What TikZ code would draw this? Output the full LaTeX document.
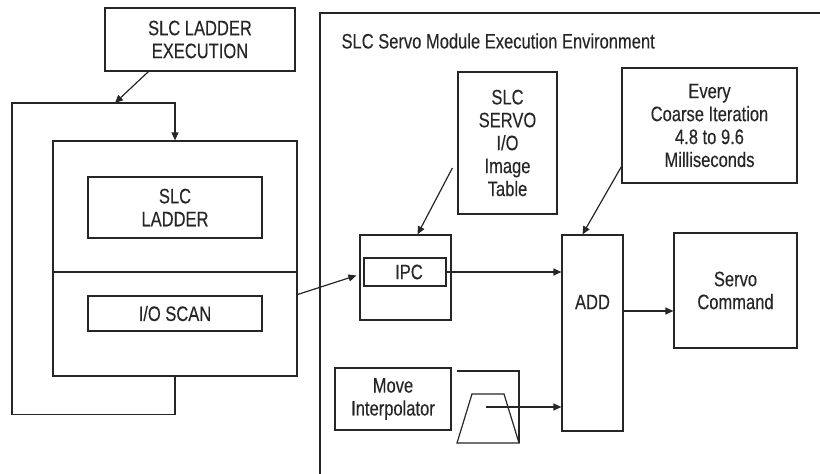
\documentclass[tikz,border=0pt]{standalone}
\usepackage{fontspec}
\setmainfont[FakeStretch=0.79,FakeBold=0.25]{Liberation Sans}
\usetikzlibrary{arrows.meta,calc}
\tikzset{
	blk/.style={draw, line width=1.2bp, align=center, inner sep=0pt},
	arr/.style={line width=1.2bp, -{Triangle[length=8bp,width=7bp]}},
	wire/.style={line width=1.2bp}
}
\begin{document}
\begin{tikzpicture}[x=1bp, y=-1bp, font=\fontsize{21}{23}\selectfont, color=black!85]
	\useasboundingbox (0,0) rectangle (820,474);
	% ladder execution and its scan loop
	\node[blk, minimum width=190bp, minimum height=63bp] (exec) at (200,39.5) {SLC LADDER\\EXECUTION};
	\node[blk, minimum width=244bp, minimum height=235bp] (scan) at (175,258.5) {};
	\draw[wire] (scan.west |- 0,272) -- (scan.east |- 0,272);
	\node[blk, minimum width=174bp, minimum height=61bp] (ladder) at (175,207.5) {SLC\\LADDER};
	\node[blk, minimum width=174bp, minimum height=35bp] (ioscan) at (175,313.5) {I/O SCAN};
	\coordinate (looptop) at (115,103);
	\draw[arr] (scan.south) -- ++(0,38) -| (12,103) -| (scan.north);
	\draw[arr] ($(exec.south west)+(44,0)$) -- (looptop);
	% servo module environment
	\draw[wire] (320,474) -- (320,13) -- (820,13);
	\node[anchor=west] (envlbl) at (338,41) {SLC Servo Module Execution Environment};
	\node[blk, minimum width=99bp, minimum height=142bp] (table) at (507.5,143) {SLC\\SERVO\\I/O\\Image\\Table};
	\node[blk, minimum width=175bp, minimum height=115bp] (every) at (709.5,125.5) {Every\\Coarse Iteration\\4.8 to 9.6\\Milliseconds};
	\node[blk, minimum width=91bp, minimum height=85bp] (ipcbox) at (405.5,277.5) {};
	\node[blk, minimum width=82bp, minimum height=28bp] (ipc) at (405,272) {\hspace*{8bp}IPC};
	\node[blk, minimum width=61bp, minimum height=196bp] (add) at (592.5,333) {};
	\node (addlbl) at (592.5,302) {ADD};
	\node[blk, minimum width=123bp, minimum height=115bp] (servo) at (735.5,290.5) {Servo\\Command};
	\node[blk, minimum width=116bp, minimum height=62bp] (move) at (393,399) {Move\\Interpolator};
	% velocity profile
	\draw[wire] (457,371) -- (519,371) -- (519,443);
	\draw[wire] (457,443) -- (472,394) -- (504,394) -- (519,443) -- cycle;
	\coordinate (prof) at (486,407);
	% connections
	\draw[arr] ($(scan.east)+(0,36)$) -- ($(ipcbox.west)+(-3,-2)$);
	\draw[arr] ($(table.west)+(-5,25)$) -- ($(ipcbox.north)+(12,0)$);
	\draw[arr] ($(every.south west)+(0,-17)$) -- ($(add.north)+(-10,0)$);
	\draw[arr] (ipc.east) -- (add.west |- ipc.east);
	\coordinate (addout) at ($(add.east)+(0,-22)$);
	\draw[arr] (addout) -- (servo.west |- addout);
	\draw[arr] (prof) -- (add.west |- prof);
\end{tikzpicture}
\end{document}
